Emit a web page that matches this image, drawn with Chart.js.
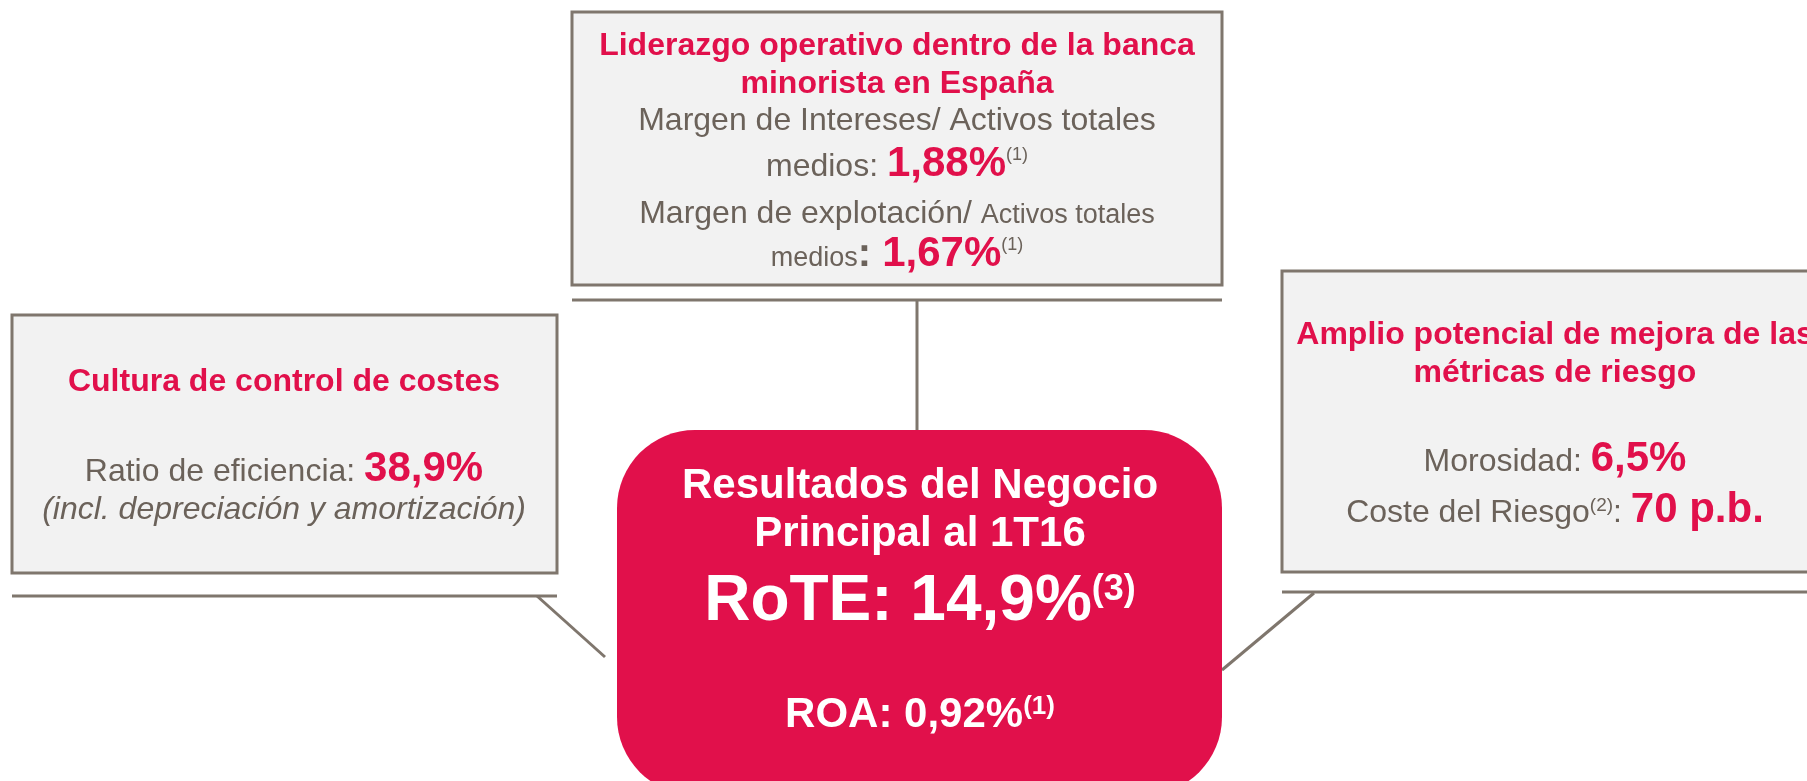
<!DOCTYPE html>
<html>
<head>
<meta charset="utf-8">
<script src="https://cdn.jsdelivr.net/npm/chart.js@4.4.1/dist/chart.umd.min.js"></script>
<style>
  body { margin: 0; background: #fff; overflow: hidden; }
  canvas { display: block; }
</style>
</head>
<body>
<canvas id="diagrama" width="1807" height="781"></canvas>
<script>
// Textos y valores del esquema
const bloques = ['Liderazgo operativo dentro de la banca', 'minorista en España',
                 'Cultura de control de costes',
                 'Amplio potencial de mejora de las', 'métricas de riesgo',
                 'Resultados del Negocio', 'Principal al 1T16'];
const metricas = ['Margen de Intereses/ Activos totales', 'Margen de explotación/', 'Ratio de eficiencia:',
                  'Morosidad:', 'Coste del Riesgo', 'RoTE:', 'ROA:'];
const valores = ['1,88%', '1,67%', '38,9%', '6,5%', '70 p.b.', '14,9%', '0,92%'];
const notas = ['(1)', '(1)', '', '', '(2)', '(3)', '(1)'];
const aclaracion = '(incl. depreciación y amortización)';

const ROJO = '#e1104b';
const GRIS = '#6b625a';
const BORDE = '#7f766d';
const SANS = '"Liberation Sans", Arial, sans-serif';

function f(estilo, px) { return estilo + ' ' + px + 'px ' + SANS; }

// dibuja una línea de texto con varios estilos, centrada en cx
function linea(ctx, cx, y, runs) {
    let total = 0;
    runs.forEach(r => { ctx.font = r.f; r.w = ctx.measureText(r.t).width; total += r.w; });
    let x = cx - total / 2;
    runs.forEach(r => {
        ctx.font = r.f;
        ctx.fillStyle = r.c;
        ctx.fillText(r.t, x, y - (r.up || 0));
        x += r.w;
    });
}

function caja(ctx, x0, y0, x1, y1, lineaY) {
    ctx.fillStyle = '#f2f2f2';
    ctx.fillRect(x0, y0, x1 - x0, y1 - y0);
    ctx.strokeStyle = BORDE;
    ctx.lineWidth = 3;
    ctx.strokeRect(x0, y0, x1 - x0, y1 - y0);
    ctx.beginPath();
    ctx.moveTo(x0, lineaY);
    ctx.lineTo(x1, lineaY);
    ctx.stroke();
}

function segmento(ctx, a, b, c, d) {
    ctx.strokeStyle = BORDE;
    ctx.lineWidth = 3;
    ctx.beginPath();
    ctx.moveTo(a, b);
    ctx.lineTo(c, d);
    ctx.stroke();
}

const esquemaPlugin = {
    id: 'esquema',
    beforeDraw(chart) {
        const ctx = chart.ctx;
        ctx.save();
        ctx.fillStyle = '#fff';
        ctx.fillRect(0, 0, chart.width, chart.height);

        caja(ctx, 572, 12, 1222, 285, 300);
        caja(ctx, 12, 315, 557, 573, 596);
        caja(ctx, 1282, 271, 1830, 572, 592);

        segmento(ctx, 917, 300, 917, 430);
        segmento(ctx, 537, 596, 605, 657);
        segmento(ctx, 1314, 593, 1222, 670);

        // caja central redondeada
        const x0 = 617, y0 = 430, x1 = 1222, y1 = 795, r = 78;
        ctx.fillStyle = ROJO;
        ctx.beginPath();
        ctx.moveTo(x0 + r, y0);
        ctx.arcTo(x1, y0, x1, y1, r);
        ctx.arcTo(x1, y1, x0, y1, r);
        ctx.arcTo(x0, y1, x0, y0, r);
        ctx.arcTo(x0, y0, x1, y0, r);
        ctx.closePath();
        ctx.fill();
        ctx.restore();
    },
    afterDraw(chart) {
        const ctx = chart.ctx;
        ctx.save();
        ctx.textBaseline = 'alphabetic';

        // caja superior
        let cx = 897;
        linea(ctx, cx, 55, [{ t: bloques[0], f: f('bold', 32), c: ROJO }]);
        linea(ctx, cx, 93, [{ t: bloques[1], f: f('bold', 32), c: ROJO }]);
        linea(ctx, cx, 130, [{ t: metricas[0], f: f('normal', 32), c: GRIS }]);
        linea(ctx, cx, 176, [
            { t: 'medios: ', f: f('normal', 32), c: GRIS },
            { t: valores[0], f: f('bold', 42), c: ROJO },
            { t: notas[0], f: f('normal', 18), c: GRIS, up: 16 }
        ]);
        linea(ctx, cx, 223, [
            { t: metricas[1] + ' ', f: f('normal', 32), c: GRIS },
            { t: 'Activos totales', f: f('normal', 27), c: GRIS }
        ]);
        linea(ctx, cx, 266, [
            { t: 'medios', f: f('normal', 27), c: GRIS },
            { t: ': ', f: f('bold', 40), c: GRIS },
            { t: valores[1], f: f('bold', 42), c: ROJO },
            { t: notas[1], f: f('normal', 18), c: GRIS, up: 16 }
        ]);

        // caja izquierda
        cx = 284;
        linea(ctx, cx, 391, [{ t: bloques[2], f: f('bold', 32), c: ROJO }]);
        linea(ctx, cx, 481, [
            { t: metricas[2] + ' ', f: f('normal', 32), c: GRIS },
            { t: valores[2], f: f('bold', 42), c: ROJO }
        ]);
        linea(ctx, cx, 519, [{ t: aclaracion, f: f('italic', 32), c: GRIS }]);

        // caja derecha
        cx = 1555;
        linea(ctx, cx, 344, [{ t: bloques[3], f: f('bold', 32), c: ROJO }]);
        linea(ctx, cx, 382, [{ t: bloques[4], f: f('bold', 32), c: ROJO }]);
        linea(ctx, cx, 471, [
            { t: metricas[3] + ' ', f: f('normal', 32), c: GRIS },
            { t: valores[3], f: f('bold', 42), c: ROJO }
        ]);
        linea(ctx, cx, 522, [
            { t: metricas[4], f: f('normal', 32), c: GRIS },
            { t: notas[4], f: f('normal', 19), c: GRIS, up: 11 },
            { t: ': ', f: f('normal', 32), c: GRIS },
            { t: valores[4], f: f('bold', 42), c: ROJO }
        ]);

        // caja central
        cx = 920;
        linea(ctx, cx, 498, [{ t: bloques[5], f: f('bold', 42), c: '#fff' }]);
        linea(ctx, cx, 546, [{ t: bloques[6], f: f('bold', 42), c: '#fff' }]);
        linea(ctx, cx, 620, [
            { t: metricas[5] + ' ' + valores[5], f: f('bold', 64), c: '#fff' },
            { t: notas[5], f: f('bold', 36), c: '#fff', up: 20 }
        ]);
        linea(ctx, cx, 727, [
            { t: metricas[6] + ' ' + valores[6], f: f('bold', 42), c: '#fff' },
            { t: notas[6], f: f('bold', 26), c: '#fff', up: 13 }
        ]);
        ctx.restore();
    }
};

new Chart(document.getElementById('diagrama'), {
    type: 'scatter',
    data: { datasets: [] },
    options: {
        responsive: false,
        animation: false,
        events: [],
        plugins: { legend: { display: false }, tooltip: { enabled: false } },
        scales: { x: { display: false }, y: { display: false } }
    },
    plugins: [esquemaPlugin]
});
</script>
</body>
</html>
